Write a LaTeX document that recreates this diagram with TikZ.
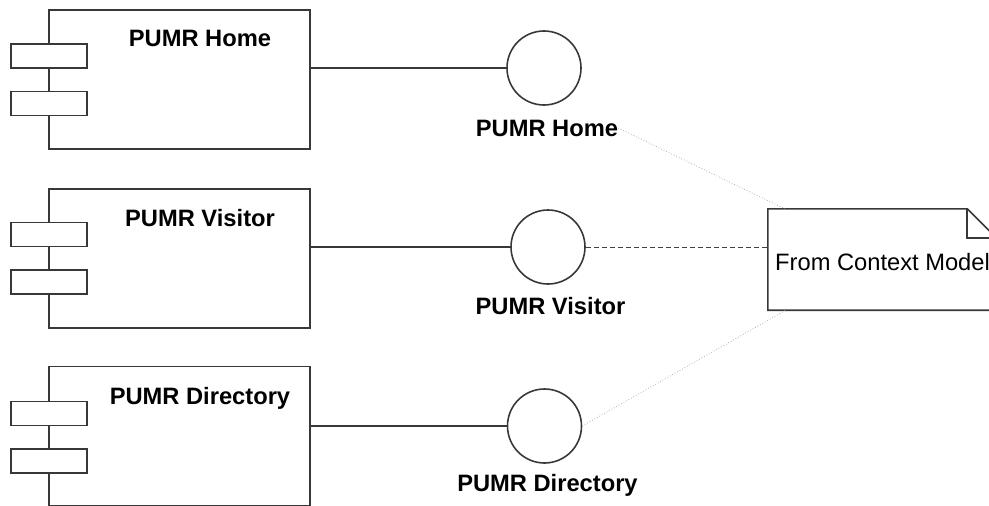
\documentclass[tikz,border=0pt]{standalone}
\usepackage{fontspec}
\setmainfont{Liberation Sans}
\begin{document}
\begin{tikzpicture}[x=1pt,y=-1pt,
  outl/.style={draw=black!78,line width=1.6pt},
  comp/.style={outl,rectangle,minimum width=261pt,minimum height=139pt,inner sep=0pt},
  port/.style={outl,fill=white,rectangle,minimum width=76pt,minimum height=24pt,inner sep=0pt},
  iface/.style={outl,circle,minimum size=74pt,inner sep=0pt},
  lbl/.style={font=\fontsize{23.7}{28}\selectfont\bfseries,inner sep=0pt},
  wire/.style={draw=black!78,line width=1.6pt},
  trace/.style={draw=black!30,line width=0.8pt,dotted},
  dep/.style={draw=black!75,line width=1pt,dash pattern=on 5pt off 3pt}
]
\useasboundingbox (0,0) rectangle (989,506);
% components
\node[comp] (c1) at (179.5,79.5) {};
\node[comp] (c2) at (179.5,258.5) {};
\node[comp] (c3) at (179.5,435.8) {};
\node[port] (p11) at (49,55.8) {};
\node[port] (p12) at (49,103.4) {};
\node[port] (p21) at (49,234.3) {};
\node[port] (p22) at (49,282) {};
\node[port] (p31) at (49,413.5) {};
\node[port] (p32) at (49,461) {};
\node[lbl] (l1) at (200,38) {PUMR Home};
\node[lbl] (l2) at (200,218) {PUMR Visitor};
\node[lbl] (l3) at (200,398) {PUMR Directory};
% interfaces
\node[iface] (i1) at (544,68) {};
\node[iface] (i2) at (548,247) {};
\node[iface] (i3) at (544.5,426) {};
\node[lbl] (il1) at (547,128) {PUMR Home};
\node[lbl] (il2) at (550.5,306) {PUMR Visitor};
\node[lbl] (il3) at (547.5,485) {PUMR Directory};
\draw[wire] (c1.east |- i1.west) -- (i1.west);
\draw[wire] (c2.east |- i2.west) -- (i2.west);
\draw[wire] (c3.east |- i3.west) -- (i3.west);
% note
\node[inner sep=0pt,minimum width=228pt,minimum height=101pt] (note) at (882,259.5) {};
\draw[outl,line join=miter] (note.north west) -- ([xshift=-29pt]note.north east) -- ([yshift=-29pt]note.north east) -- (note.south east) -- (note.south west) -- cycle;
\draw[outl] ([xshift=-29pt]note.north east) -- ([xshift=-29pt,yshift=-29pt]note.north east) -- ([yshift=-29pt]note.north east);
\node[anchor=west,inner sep=0pt,font=\fontsize{23.7}{28}\selectfont] (nt) at (775,262) {From Context Model};
\coordinate (n1) at (785,209);
\coordinate (n3) at (786,310);
\draw[trace] (il1.east) -- (n1);
\draw[dep] (i2.east) -- (note.west |- i2.east);
\draw[trace] (i3.east) -- (n3);
\end{tikzpicture}
\end{document}
